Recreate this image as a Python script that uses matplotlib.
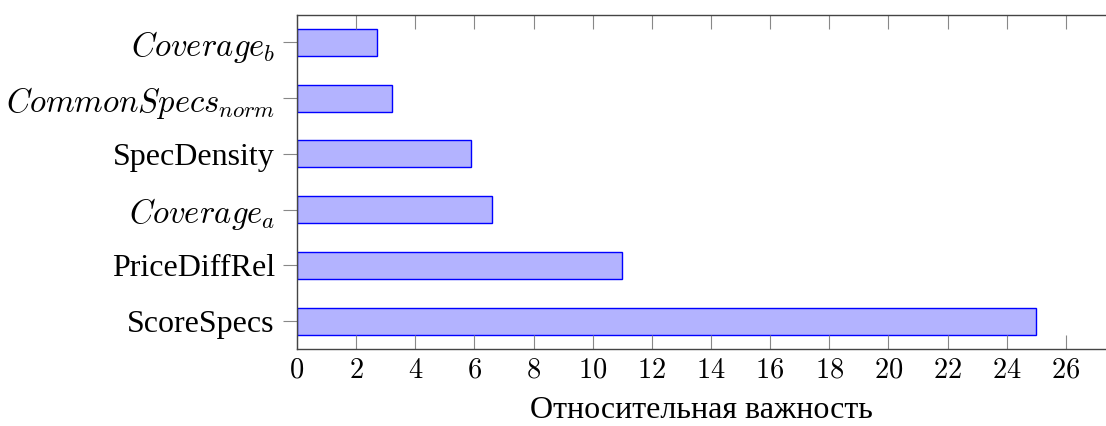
import numpy as np
import matplotlib.pyplot as plt

plt.rcParams.update({
    "font.family": "Liberation Serif",
    "mathtext.fontset": "cm",
})

# Данные (снизу вверх)
признаки = ["ScoreSpecs", "PriceDiffRel", r"$Coverage_a$", "SpecDensity",
            r"$CommonSpecs_{norm}$", r"$Coverage_b$"]
важность = [25.0, 11.0, 6.6, 5.9, 3.2, 2.7]
деления_x = [0, 2, 4, 6, 8, 10, 12, 14, 16, 18, 20, 22, 24, 26]

W, H = 1106, 426
fig = plt.figure(figsize=(W / 100, H / 100), dpi=100)
ax = fig.add_axes([297 / W, (H - 349) / H, (W - 297) / W, (349 - 14.5) / H])

поз = np.arange(len(признаки))
ax.barh(поз, важность, height=0.48, color="#b3b3ff", edgecolor="#0000ff", linewidth=1.0)

ax.set_xlim(0, 27.36)
ax.set_ylim(-0.5, len(признаки) - 0.5)

ax.set_yticks(поз)
ax.set_yticklabels(признаки, fontsize=23)
# математические размеры для формул
for lbl in ax.get_yticklabels():
    if lbl.get_text().startswith("$"):
        lbl.set_fontsize(23.5)
ax.set_xticks(деления_x)
ax.set_xticklabels([f"${v}$" for v in деления_x], fontsize=20.5)

# Оси в стиле pgfplots
цвет_оси = "#444444"
for s in ["left", "top", "bottom"]:
    ax.spines[s].set_color(цвет_оси)
    ax.spines[s].set_linewidth(1.0)
ax.spines["right"].set_visible(False)

ax.tick_params(axis="x", direction="in", length=10, width=0.8, color="#888888",
               top=True, bottom=True, pad=7)
ax.tick_params(axis="y", direction="out", length=10, width=0.8, color="#888888",
               right=False, pad=6)

ax.set_xlabel("Относительная важность", fontsize=23, labelpad=9)

fig.savefig("out.png", dpi=100)
